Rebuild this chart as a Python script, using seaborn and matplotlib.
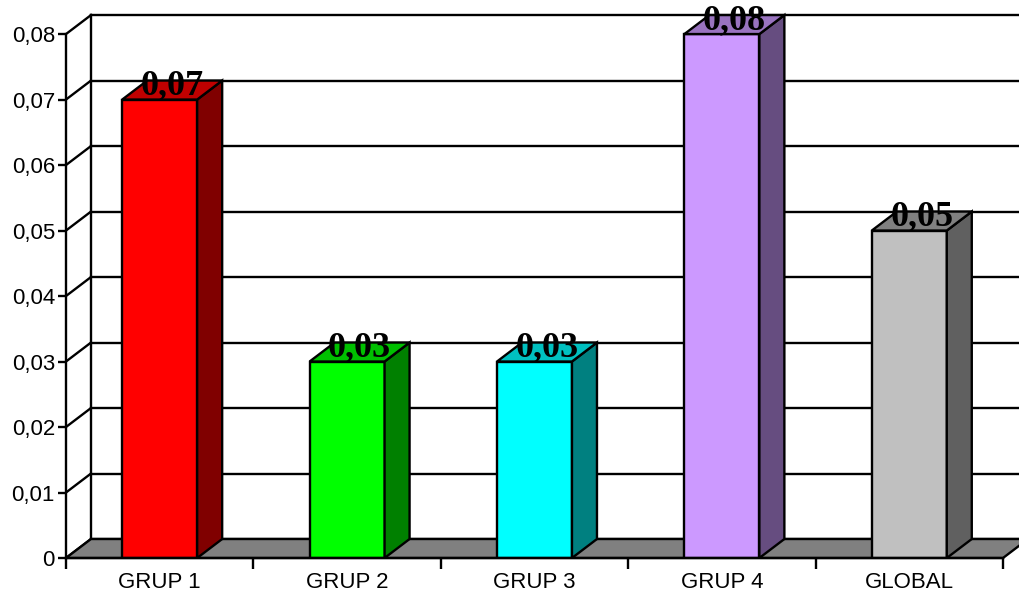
import matplotlib
matplotlib.use("Agg")
import matplotlib.pyplot as plt
from matplotlib.patches import Polygon
import seaborn as sns
import pandas as pd

# Chart data
categories = ["GRUP 1", "GRUP 2", "GRUP 3", "GRUP 4", "GLOBAL"]
values = [0.07, 0.03, 0.03, 0.08, 0.05]
y_ticks = [0.0, 0.01, 0.02, 0.03, 0.04, 0.05, 0.06, 0.07, 0.08]
y_tick_labels = ["0", "0,01", "0,02", "0,03", "0,04", "0,05", "0,06", "0,07", "0,08"]
value_labels = ["0,07", "0,03", "0,03", "0,08", "0,05"]

# Face colours for each bar: front, side, top
front_colors = ["#FF0000", "#00FF00", "#00FFFF", "#CC99FF", "#C0C0C0"]
side_colors = ["#800000", "#008000", "#008080", "#664D80", "#606060"]
top_colors = ["#C00000", "#00C000", "#00C0C0", "#9973BF", "#808080"]

# Depth offset of the pseudo-3D box (x in category units, y in data units)
DX = 0.1334
DY = 0.0029
BAR_W = 0.4
LW = 1.7

fig = plt.figure(figsize=(10.2, 5.95), dpi=100)
ax = fig.add_axes([66 / 1020, 37 / 595, (5 + DX + 0.05) * 187.4 / 1020, 558 / 595])

df = pd.DataFrame({"group": categories, "value": values})
sns.barplot(data=df, x="group", y="value", hue="group", palette=front_colors,
            legend=False, width=BAR_W, edgecolor="black", linewidth=LW,
            saturation=1, ax=ax, zorder=3)

x0, x1 = -0.5, len(categories) - 0.5

# Back wall: gridlines, left wall edge and the diagonals joining the front axis
for t in y_ticks:
    ax.plot([x0 + DX, x1 + DX + 0.2], [t + DY, t + DY], color="black", lw=LW,
            zorder=1, clip_on=False)
    ax.plot([x0, x0 + DX], [t, t + DY], color="black", lw=LW, zorder=1)
ax.plot([x0 + DX, x0 + DX], [DY, y_ticks[-1] + DY], color="black", lw=LW, zorder=1)

# Floor
floor = Polygon([(x0, 0), (x1, 0), (x1 + DX, DY), (x0 + DX, DY)], closed=True,
                facecolor="#808080", edgecolor="black", lw=LW, zorder=2,
                clip_on=False)
ax.add_patch(floor)

# Side and top faces of each bar
for i, v in enumerate(values):
    left, right = i - BAR_W / 2, i + BAR_W / 2
    side = Polygon([(right, 0), (right + DX, DY), (right + DX, v + DY), (right, v)],
                   closed=True, facecolor=side_colors[i], edgecolor="black",
                   lw=LW, zorder=3)
    top = Polygon([(left, v), (right, v), (right + DX, v + DY), (left + DX, v + DY)],
                  closed=True, facecolor=top_colors[i], edgecolor="black",
                  lw=LW, zorder=3)
    ax.add_patch(side)
    ax.add_patch(top)
    ax.text(i + DX / 2, v + 0.0008, value_labels[i], ha="center", va="baseline",
            fontsize=26, fontweight="bold", family="Liberation Serif",
            color="black", zorder=5)

# Axes
ax.set_xlim(x0, x1 + DX + 0.05)
ax.set_ylim(0, 0.0852)
for s in ["top", "right"]:
    ax.spines[s].set_visible(False)
ax.spines["left"].set_bounds(0, y_ticks[-1])
ax.spines["bottom"].set_bounds(x0, x1)
for s in ["left", "bottom"]:
    ax.spines[s].set_linewidth(LW)
    ax.spines[s].set_zorder(4)

ax.set_yticks(y_ticks)
ax.set_yticklabels(y_tick_labels, family="Liberation Sans", fontsize=16)
ax.tick_params(axis="y", length=6, width=LW, pad=2)

ax.set_xticks([x0 + k for k in range(len(categories) + 1)])
ax.set_xticklabels([])
ax.set_xticks(list(range(len(categories))), minor=True)
ax.set_xticklabels(categories, minor=True, family="Liberation Sans", fontsize=16)
ax.tick_params(axis="x", which="major", length=8, width=LW)
ax.tick_params(axis="x", which="minor", length=0, pad=10)
ax.set_xlabel("")
ax.set_ylabel("")
ax.patch.set_visible(False)

fig.savefig("out.png", dpi=100, facecolor="white")
